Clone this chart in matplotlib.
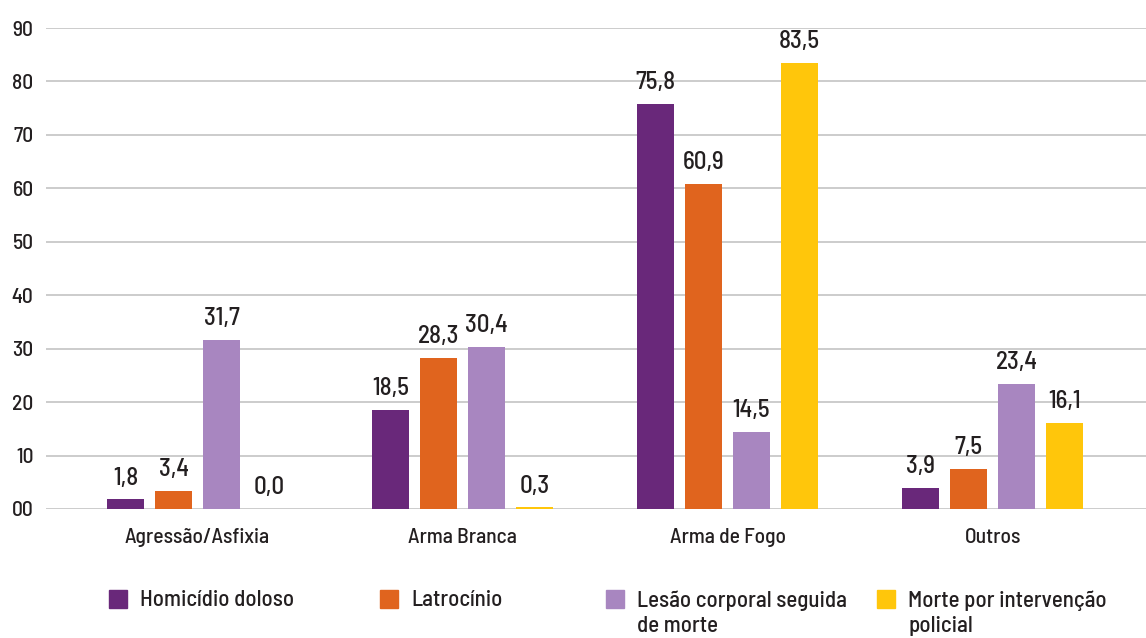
import matplotlib
matplotlib.use("Agg")
import matplotlib.pyplot as plt
import numpy as np
from matplotlib.patches import Rectangle

categories = ["Agressão/Asfixia", "Arma Branca", "Arma de Fogo", "Outros"]
series_names = ["Homicídio doloso", "Latrocínio", "Lesão corporal seguida\nde morte",
                "Morte por intervenção\npolicial"]
homicidio = [1.8, 18.5, 75.8, 3.9]
latrocinio = [3.4, 28.3, 60.9, 7.5]
lesao = [31.7, 30.4, 14.5, 23.4]
morte_policial = [0.0, 0.3, 83.5, 16.1]
yticks = [0, 10, 20, 30, 40, 50, 60, 70, 80, 90]
ytick_labels = ["00", "10", "20", "30", "40", "50", "60", "70", "80", "90"]

colors = ["#69287A", "#E0641E", "#A886C0", "#FFC60B"]
text_color = "#231F20"

plt.rcParams['font.family'] = ['Barlow Semi Condensed', 'DejaVu Sans']
plt.rcParams['font.weight'] = 500

fig = plt.figure(figsize=(11.46, 6.38), dpi=100)
ax = fig.add_axes([46/1146, (638-509)/638, 1 - 46/1146, (509-28)/638])

data = [homicidio, latrocinio, lesao, morte_policial]
x = np.arange(len(categories))
w = 0.14
step = 0.181
for i, (vals, c) in enumerate(zip(data, colors)):
    pos = x + (i - 1.5) * step
    bars = ax.bar(pos, vals, width=w, color=c, zorder=3)
    for b, v in zip(bars, vals):
        ax.annotate(f"{v:.1f}".replace(".", ","), (b.get_x() + b.get_width()/2, v),
                    xytext=(0, 7), textcoords="offset points", ha="center", va="bottom",
                    fontsize=18, color=text_color, weight=500, clip_on=False)

ax.set_xlim(-0.572, 3.579)
ax.set_ylim(0, 90)
ax.set_yticks(yticks)
ax.set_yticklabels(ytick_labels)
ax.set_xticks(x)
ax.set_xticklabels(categories)
ax.tick_params(axis="both", length=0, labelsize=15.5, colors=text_color)
ax.tick_params(axis="y", pad=9)
ax.tick_params(axis="x", pad=14)
ax.grid(axis="y", color="#C8C8C8", linewidth=1.3, zorder=0)
for s in ax.spines.values():
    s.set_visible(False)

# legend
leg_x = [109, 380, 606, 877]
for lx, name, c in zip(leg_x, series_names, colors):
    fig.patches.append(Rectangle((lx/1146, (638-608)/638), 18/1146, 18/638,
                                 transform=fig.transFigure, color=c))
    fig.text((lx + 31)/1146, (638-590)/638, name, ha="left", va="top",
             fontsize=16.5, color=text_color, weight=500, linespacing=1.3)

fig.savefig("out.png", dpi=100)
